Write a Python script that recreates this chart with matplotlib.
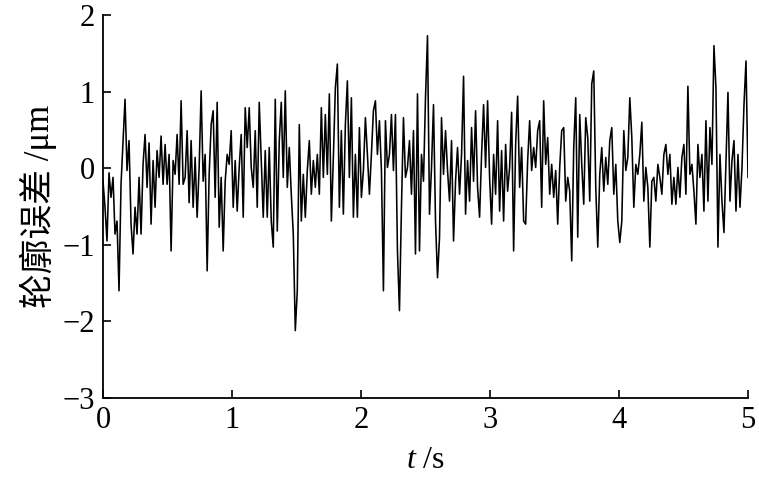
import matplotlib as mpl
mpl.use('Agg')
import matplotlib.pyplot as plt
import numpy as np

# contour error samples, one every ~0.0155 s
err_a = [-0.17, -0.51, -0.95, -0.06, -0.38, -0.12, -0.86, -0.69, -1.60, -0.21, 0.36, 0.90, -0.03, 0.36,
         -0.73, -1.12, -0.51, -0.86, -0.12, -0.86, 0.05, 0.44, -0.25, 0.33, -0.73, 0.10, -0.51, 0.23,
         -0.12, 0.42, -0.21, 0.31, -0.21, 0.18, -1.08, 0.10, -0.08, 0.44, -0.21, 0.88, -0.21]
err_b = [-0.12, 0.49, -0.45, 0.36, -0.51, 0.14, -0.64, 0.01, 1.01, -0.17, 0.18, -1.34, -0.08, 0.57,
         0.75, -0.38, 0.86, -0.77, -0.12, -1.08, -0.17, 0.18, 0.05, 0.49, -0.51, 0.10, -0.56, 0.01,
         0.44, -0.64, 0.79, 0.27, 0.79, 0.01, -0.25, 0.49, -0.51, 0.86, 0.10, -0.64]
err_c = [0.23, -0.64, 0.27, -0.69, -1.03, 0.90, -0.82, 0.36, 0.86, -0.12, 1.01, -0.25, 0.27, -0.34,
         -0.86, -2.12, -1.60, 0.57, -0.69, -0.08, -0.64, -0.03, 0.36, -0.34, 0.10, -0.25, 0.18, -0.34,
         0.79, -0.12, 0.70, -0.08, 0.97, -0.69, 0.14, 1.05, 1.36, -0.51, 0.49, -0.60]
err_d = [0.57, 1.14, -0.12, 0.92, -0.64, 0.18, -0.64, 0.53, -0.38, -0.03, 0.66, 0.18, -0.34, 0.18,
         0.75, 0.88, 0.18, 0.62, -0.03, -1.60, 0.62, 0.01, 0.18, 0.70, -0.03, 0.70, -1.08, -1.86,
         -0.51, 0.66, -0.12, 0.01, 0.36, -0.34, 0.49, -1.12, 0.97, -1.08, 0.18, -0.17]
err_e = [0.92, 1.73, -0.60, 0.01, 0.83, -0.69, -1.43, -0.90, 0.66, -0.08, 0.49, -0.03, -0.43, 0.36,
         -0.95, -0.17, 0.27, -0.34, 0.18, 1.20, -0.60, 0.10, -0.43, 0.53, -0.17, 0.75, -0.25, -0.64,
         0.18, 0.83, 0.01, 0.88, -0.12, -0.73, 0.18, -0.34, 0.62, -0.56, 0.23, -0.69]
err_f = [0.31, -0.30, 0.01, 0.73, -1.08, 0.31, 0.94, -0.25, 0.27, -0.69, -0.73, 0.10, 0.62, -0.03,
         0.27, 0.01, 0.49, 0.62, -0.51, 0.88, 0.05, 0.40, -0.34, 0.05, -0.38, -0.03, -0.73, 0.01,
         0.49, 0.53, -0.43, -0.12, -0.30, -1.21, 0.27, 0.92, -0.90, 0.70, 0.05, -0.47]
err_g = [0.66, 0.40, -0.43, 1.10, 1.27, -0.25, -1.03, -0.08, 0.27, -0.30, 0.14, -0.21, 0.36, 0.53,
         -0.34, 0.05, -0.69, -0.97, -0.69, 0.49, -0.03, 0.14, 0.92, 0.40, -0.51, 0.05, -0.08, 0.18,
         0.60, -0.43, 0.01, -0.25, -1.03, -0.17, -0.12, -0.43, 0.05, -0.12, -0.34, 0.18]
err_h = [0.31, -0.08, 0.18, -0.47, -0.12, -0.47, 0.01, -0.38, 0.14, 0.31, -0.34, 1.07, -0.08, 0.05,
         -0.30, -0.73, 0.31, -0.12, 0.18, -0.56, 0.62, -0.43, 0.53, 0.05, 1.60, 1.05, -1.03, 0.18,
         -0.43, -0.84, 0.10, 0.99, -0.43, 0.10, 0.36, -0.56, 0.18, -0.51, 0.01, 0.83, 1.40, -0.12]

err = np.array(err_a + err_b + err_c + err_d + err_e + err_f + err_g + err_h)
dt = 5.0 / (len(err) - 1)
t = np.arange(len(err)) * dt

x_ticks = [0, 1, 2, 3, 4, 5]
y_ticks = [-3, -2, -1, 0, 1, 2]

plt.rcParams['font.family'] = ['Liberation Serif', 'Noto Sans CJK SC']
plt.rcParams['mathtext.fontset'] = 'custom'
plt.rcParams['mathtext.rm'] = 'Liberation Serif'
plt.rcParams['mathtext.it'] = 'Liberation Serif:italic'

fig = plt.figure(figsize=(7.59, 4.84), dpi=100)
ax = fig.add_axes([0.1357, 0.1777, 0.8498, 0.7913])

ax.plot(t, err, color='black', linewidth=1.15)

ax.set_xlim(0, 5)
ax.set_ylim(-3, 2)
ax.set_xticks(x_ticks)
ax.set_yticks(y_ticks)
ax.set_xticklabels([str(v) for v in x_ticks])
ax.set_yticklabels([str(v).replace('-', '\u2212') for v in y_ticks])

for side in ['top', 'right']:
  ax.spines[side].set_visible(False)
for side in ['left', 'bottom']:
  ax.spines[side].set_linewidth(1.3)

ax.tick_params(axis='both', direction='in', length=6, width=1.2, labelsize=22, pad=6)

ax.set_xlabel(r'$t$ /s', fontsize=23, labelpad=8)
ax.set_ylabel('轮廓误差 /μm', fontsize=25, labelpad=4)

fig.savefig('out.png', dpi=100)
plt.close()
